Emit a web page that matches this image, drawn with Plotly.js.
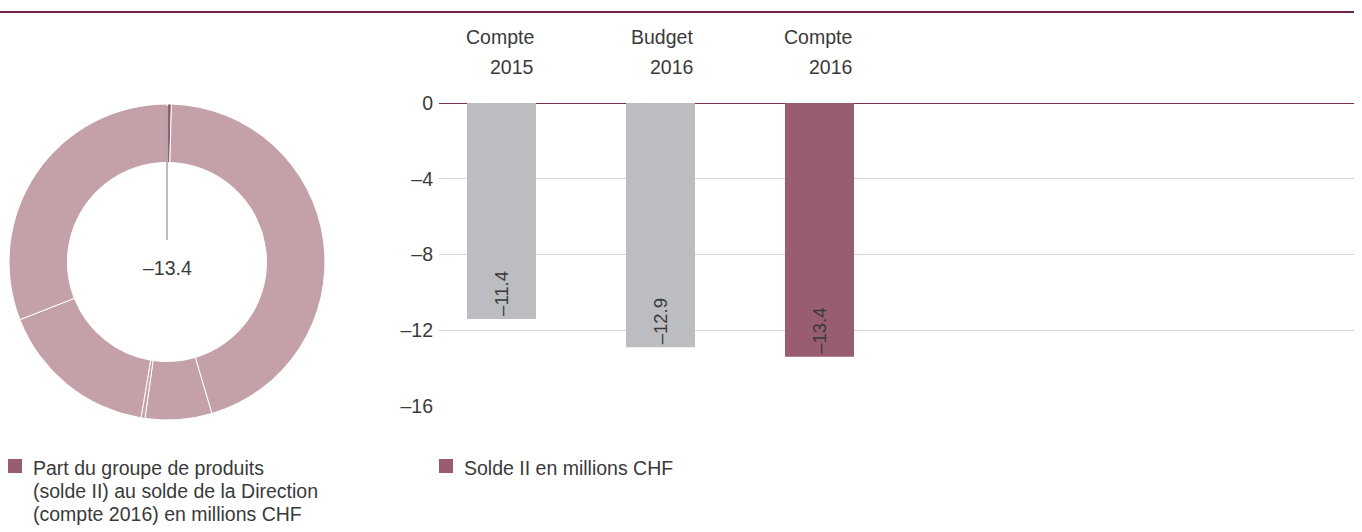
<!DOCTYPE html>
<html>
<head>
<meta charset="utf-8">
<script src="https://cdn.plot.ly/plotly-3.0.1.min.js"></script>
<style>
  html, body { margin: 0; padding: 0; background: #fff; }
  #chart { width: 1362px; height: 532px; }
</style>
</head>
<body>
<div id="chart"></div>
<script>
// Données du graphique
const categories = ['Compte 2015', 'Budget 2016', 'Compte 2016'];
const solde = [-11.4, -12.9, -13.4];
const barColors = ['#bcbdc1', '#bcbdc1', '#985d70'];

// Parts du donut (en % du solde de la Direction), dans le sens horaire depuis midi
const pieLabels = ['Groupe de produits', 'Autres 1', 'Autres 2', 'Autres 3', 'Autres 4', 'Autres 5'];
const pieShares = [0.45, 44.9, 6.8, 0.4, 16.4, 30.9];
const pieColors = ['#985d70', '#c4a1a9', '#c4a1a9', '#c4a1a9', '#c4a1a9', '#c4a1a9'];
const pieCenterLabel = -13.4;

const yTicks = [0, -4, -8, -12, -16];

const legendPie = ['Part du groupe de produits', '(solde II) au solde de la Direction', '(compte 2016) en millions CHF'];
const legendBar = 'Solde II en millions CHF';

const W = 1362, H = 532;
const FONT = '"Liberation Sans", Arial, sans-serif';
const TXT = '#3a3a3a';
const FS = 19.5;

// conversion pixels -> coordonnées papier
const px = x => x / W;
const py = y => 1 - y / H;

// tiret demi-cadratin comme signe moins
const fmt = v => String(v).replace('-', '\u2013');

const barWidth = 0.434;

const pieTrace = {
    type: 'pie',
    labels: pieLabels,
    values: pieShares,
    hole: 0.63,
    sort: false,
    direction: 'clockwise',
    rotation: 0,
    textinfo: 'none',
    hoverinfo: 'skip',
    showlegend: false,
    marker: { colors: pieColors, line: { color: '#ffffff', width: 1 } },
    domain: { x: [px(9), px(325)], y: [py(420), py(104)] }
};

const barTrace = {
    type: 'bar',
    x: categories.map((c, i) => i),
    y: solde,
    width: barWidth,
    marker: { color: barColors },
    text: solde.map(fmt),
    textposition: 'inside',
    textangle: -90,
    insidetextanchor: 'end',
    insidetextfont: { family: FONT, size: 18.5, color: TXT },
    hoverinfo: 'skip',
    showlegend: false,
    xaxis: 'x',
    yaxis: 'y'
};

const txt = (x, y, text, xanchor, xref) => ({
    x: x, y: y, xref: xref || 'paper', yref: 'paper',
    xanchor: xanchor, yanchor: 'middle', align: xanchor === 'right' ? 'right' : 'left',
    text: text, showarrow: false,
    font: { family: FONT, size: FS, color: TXT }
});

// Étiquettes des catégories, alignées à droite sur les barres
const annotations = [];
categories.forEach((c, i) => {
    const parts = c.split(' ');
    annotations.push(txt(i + barWidth / 2, py(37), parts[0], 'right', 'x'));
    annotations.push(txt(i + barWidth / 2, py(67), parts[1], 'right', 'x'));
});

// Valeur au centre du donut
annotations.push(txt(px(167), py(268), fmt(pieCenterLabel), 'center'));

// Légendes
legendPie.forEach((line, k) => {
    annotations.push(txt(px(31), py(468 + 23 * k), line, 'left'));
});
annotations.push(txt(px(462), py(468), legendBar, 'left'));

const shapes = [
    // filet supérieur
    { type: 'line', xref: 'paper', yref: 'paper', x0: 0, x1: px(1354), y0: py(12), y1: py(12),
      line: { color: '#6e2448', width: 2 } },
    // trait de rappel du donut
    { type: 'line', xref: 'paper', yref: 'paper', x0: px(167), x1: px(167), y0: py(240), y1: py(106),
      line: { color: '#7a7a7a', width: 1 } },
    // carrés de légende
    { type: 'rect', xref: 'paper', yref: 'paper', x0: px(8), x1: px(22), y0: py(473), y1: py(459),
      fillcolor: '#985d70', line: { width: 0 } },
    { type: 'rect', xref: 'paper', yref: 'paper', x0: px(439), x1: px(453), y0: py(473), y1: py(459),
      fillcolor: '#985d70', line: { width: 0 } }
];

const layout = {
    width: W,
    height: H,
    margin: { l: 0, r: 0, t: 0, b: 0 },
    paper_bgcolor: '#ffffff',
    plot_bgcolor: '#ffffff',
    font: { family: FONT, size: FS, color: TXT },
    xaxis: {
        domain: [px(439), px(1354)],
        range: [-0.393, 5.362],
        showticklabels: false,
        showgrid: false,
        zeroline: false,
        showline: false,
        fixedrange: true
    },
    yaxis: {
        domain: [py(406), py(103)],
        range: [-16, 0],
        tickvals: yTicks,
        ticktext: yTicks.map(fmt),
        tickfont: { family: FONT, size: FS, color: TXT },
        ticklabelstandoff: 5,
        showgrid: true,
        gridcolor: '#d5d5d5',
        gridwidth: 1,
        zeroline: true,
        zerolinecolor: '#7d2f55',
        zerolinewidth: 1,
        showline: false,
        automargin: false,
        fixedrange: true
    },
    annotations: annotations,
    shapes: shapes
};

Plotly.newPlot('chart', [pieTrace, barTrace], layout, { displayModeBar: false, staticPlot: true });
</script>
</body>
</html>
